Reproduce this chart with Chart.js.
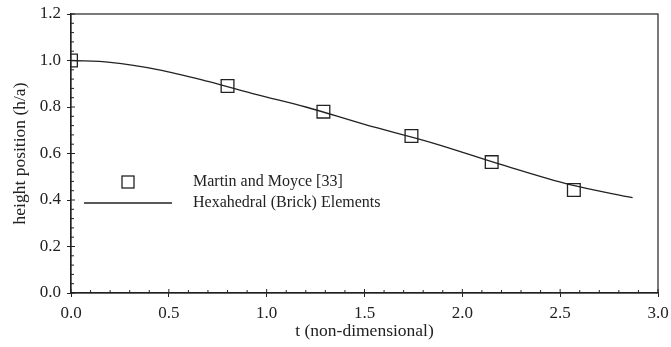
<!DOCTYPE html>
<html>
<head>
<meta charset="utf-8">
<script src="https://cdn.jsdelivr.net/npm/chart.js@4"></script>
<style>
  html, body { margin: 0; padding: 0; background: #fff; }
  #wrap { width: 671px; height: 347px; position: relative; }
</style>
</head>
<body>
<div id="wrap"><canvas id="chart"></canvas></div>
<script>
// Experimental points (Martin and Moyce [33])
const expT = [0.0, 0.80, 1.29, 1.74, 2.15, 2.57];
const expH = [1.0, 0.89, 0.78, 0.675, 0.563, 0.443];

// Simulation curve (Hexahedral elements)
const simT = [0.0, 0.2, 0.45, 0.7, 0.95, 1.2, 1.5, 1.85, 2.2, 2.55, 2.87];
const simH = [1.0, 0.992, 0.96, 0.91, 0.853, 0.80, 0.725, 0.645, 0.552, 0.466, 0.41];

const seriesNames = ['Martin and Moyce [33]', 'Hexahedral (Brick) Elements'];
const xTitle = 't (non-dimensional)';
const yTitle = 'height position (h/a)';

const ink = '#222';
const serif = '"Liberation Serif", "Times New Roman", serif';

// minor ticks + inner major ticks + box + legend
const framePlugin = {
    id: 'frame',
    afterDraw(chart) {
        const ctx = chart.ctx;
        const a = chart.chartArea;
        const xs = chart.scales.x, ys = chart.scales.y;
        ctx.save();
        ctx.strokeStyle = ink;
        ctx.lineWidth = 1.2;
        ctx.strokeRect(a.left, a.top, a.right - a.left, a.bottom - a.top);
        ctx.lineWidth = 1;
        ctx.beginPath();
        for (let i = 0; i <= 30; i++) {
            const px = xs.getPixelForValue(i * 0.1);
            const len = i % 5 === 0 ? 4 : 3;
            ctx.moveTo(px, a.bottom);
            ctx.lineTo(px, a.bottom - len);
        }
        for (let i = 0; i <= 30; i++) {
            const py = ys.getPixelForValue(i * 0.04);
            const len = i % 5 === 0 ? 4 : 3;
            ctx.moveTo(a.left, py);
            ctx.lineTo(a.left + len, py);
        }
        ctx.stroke();

        // legend
        const lx = 84, tx = 193, y1 = 182, y2 = 203;
        ctx.lineWidth = 1.3;
        ctx.strokeRect(lx + 44 - 6, y1 - 6, 12, 12);
        ctx.beginPath();
        ctx.moveTo(lx, y2);
        ctx.lineTo(lx + 88, y2);
        ctx.stroke();
        ctx.fillStyle = ink;
        ctx.font = '16px ' + serif;
        ctx.textBaseline = 'middle';
        ctx.fillText(chart.data.datasets[0].label, tx, y1);
        ctx.fillText(chart.data.datasets[1].label, tx, y2);
        ctx.restore();
    }
};

new Chart(document.getElementById('chart'), {
    type: 'scatter',
    data: {
        datasets: [{
            label: seriesNames[0],
            data: expT.map((t, i) => ({ x: t, y: expH[i] })),
            pointStyle: 'rect',
            pointRadius: 9,
            pointBorderWidth: 1.3,
            pointBorderColor: ink,
            pointBackgroundColor: 'rgba(0,0,0,0)',
            showLine: false,
            order: 0
        }, {
            label: seriesNames[1],
            data: simT.map((t, i) => ({ x: t, y: simH[i] })),
            showLine: true,
            borderColor: ink,
            borderWidth: 1.3,
            pointRadius: 0,
            cubicInterpolationMode: 'monotone',
            order: 1
        }]
    },
    options: {
        responsive: true,
        maintainAspectRatio: false,
        animation: false,
        layout: { padding: { top: 14, right: 13, left: 0, bottom: 0 } },
        plugins: {
            legend: { display: false },
            tooltip: { enabled: false }
        },
        scales: {
            x: {
                type: 'linear',
                min: 0,
                max: 3,
                ticks: {
                    stepSize: 0.5,
                    color: ink,
                    padding: 6,
                    maxRotation: 0,
                    font: { family: serif, size: 17 },
                    callback: v => v.toFixed(1)
                },
                grid: { drawOnChartArea: false, color: ink, tickLength: 4, tickColor: ink },
                border: { color: ink, width: 1.2 },
                title: {
                    display: true,
                    text: xTitle,
                    color: ink,
                    padding: { top: 0, bottom: 5 },
                    font: { family: serif, size: 17.5 }
                },
                afterFit: s => { s.height = 54; s.paddingLeft = 0; s.paddingRight = 0; }
            },
            y: {
                min: 0,
                max: 1.2,
                ticks: {
                    stepSize: 0.2,
                    color: ink,
                    padding: 6,
                    font: { family: serif, size: 17 },
                    callback: v => v.toFixed(1)
                },
                grid: { drawOnChartArea: false, color: ink, tickLength: 4, tickColor: ink },
                border: { color: ink, width: 1.2 },
                title: {
                    display: true,
                    text: yTitle,
                    color: ink,
                    padding: { top: 10, bottom: 4 },
                    font: { family: serif, size: 17.5 }
                },
                afterFit: s => { s.width = 71; s.paddingTop = 0; s.paddingBottom = 0; }
            }
        }
    },
    plugins: [framePlugin]
});
</script>
</body>
</html>
